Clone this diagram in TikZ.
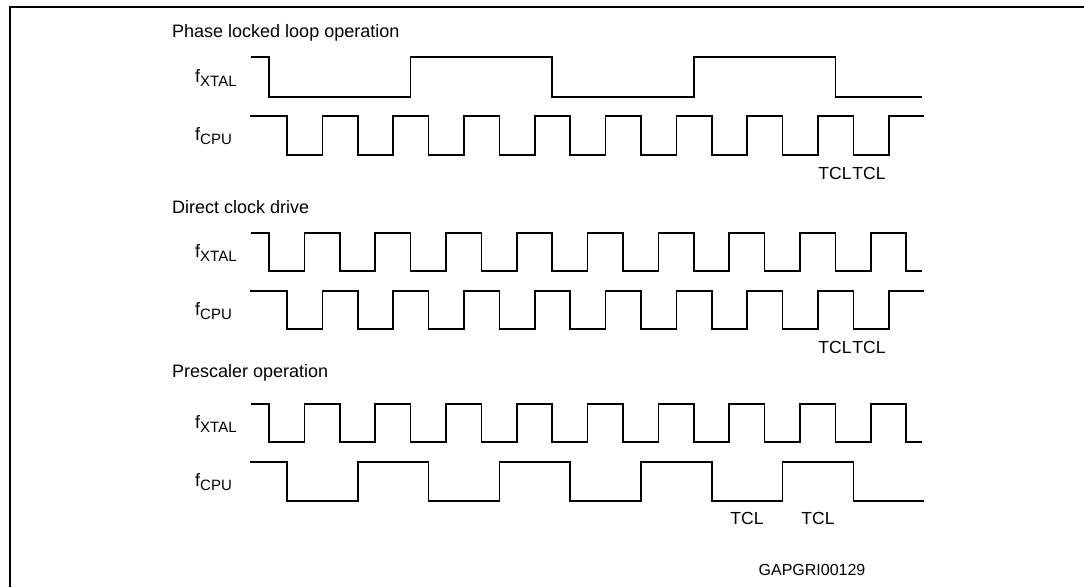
\documentclass[tikz,border=0pt]{standalone}
\usepackage{fontspec}
\setmainfont{Liberation Sans}
\usetikzlibrary{positioning}

% signal name with lowered subscript
\newcommand{\signame}[1]{f\raisebox{-4pt}{\fontsize{15}{17}\selectfont #1}}
% square wave: start x, first edge, step, last edge index, high y, low y, end x
\newcommand{\clocktrain}[7]{%
  \draw[wave] (#1,#5)
    \foreach \k [evaluate=\k as \ex using {#2+#3*\k},
                 evaluate=\k as \ya using {ifthenelse(mod(\k,2)==0,#5,#6)},
                 evaluate=\k as \yb using {ifthenelse(mod(\k,2)==0,#6,#5)}] in {0,...,#4}
      { -- (\ex,\ya) -- (\ex,\yb) }
    -- ++({#7-(#2+#3*#4)},0);
}

\begin{document}
\begin{tikzpicture}[
    x=1pt, y=-1pt,
    wave/.style={line width=1.6pt, line join=miter},
    frame/.style={line width=2pt},
    title/.style={font=\fontsize{18}{21}\selectfont, anchor=base west, inner sep=0pt},
    sname/.style={font=\fontsize{18}{21}\selectfont, anchor=base west, inner sep=0pt},
    tcl/.style={font=\fontsize{17.5}{20}\selectfont, anchor=base, inner sep=0pt},
    code/.style={font=\fontsize{16}{18}\selectfont, anchor=base, inner sep=0pt}
  ]
    \useasboundingbox (0,0) rectangle (1084,587);
    \draw[frame] (10,587) -- (10,6.7) -- (1084,6.7);

    % phase locked loop
    \node[title] (pll) at (172,37.7) {Phase locked loop operation};
    \node[sname] (pllx) at (195,82) {\signame{XTAL}};
    \node[sname] (pllc) at (195,140.5) {\signame{CPU}};
    \clocktrain{251}{269}{141.6}{4}{57}{97}{922}
    \clocktrain{250}{287}{35.4}{17}{116}{155}{924}
    \node[tcl] (plla) at (835,179) {TCL};
    \node[tcl] (pllb) at (869,179) {TCL};

    % direct drive
    \node[title] (direct) at (172,213) {Direct clock drive};
    \node[sname] (dirx) at (195,257) {\signame{XTAL}};
    \node[sname] (dirc) at (195,315) {\signame{CPU}};
    \clocktrain{251}{269}{35.4}{18}{233}{271}{922}
    \clocktrain{250}{287}{35.4}{17}{291}{329}{924}
    \node[tcl] (dira) at (835,353) {TCL};
    \node[tcl] (dirb) at (869,353) {TCL};

    % prescaler
    \node[title] (presc) at (172,377) {Prescaler operation};
    \node[sname] (prex) at (195,428) {\signame{XTAL}};
    \node[sname] (prec) at (195,486.5) {\signame{CPU}};
    \clocktrain{251}{269}{35.4}{18}{404}{442}{922}
    \clocktrain{250}{287}{70.8}{8}{462}{501}{924}
    \node[tcl] (prea) at (747,524) {TCL};
    \node[tcl] (preb) at (818,524) {TCL};

    \node[code] (figcode) at (812,575) {GAPGRI00129};
  \end{tikzpicture}
\end{document}
